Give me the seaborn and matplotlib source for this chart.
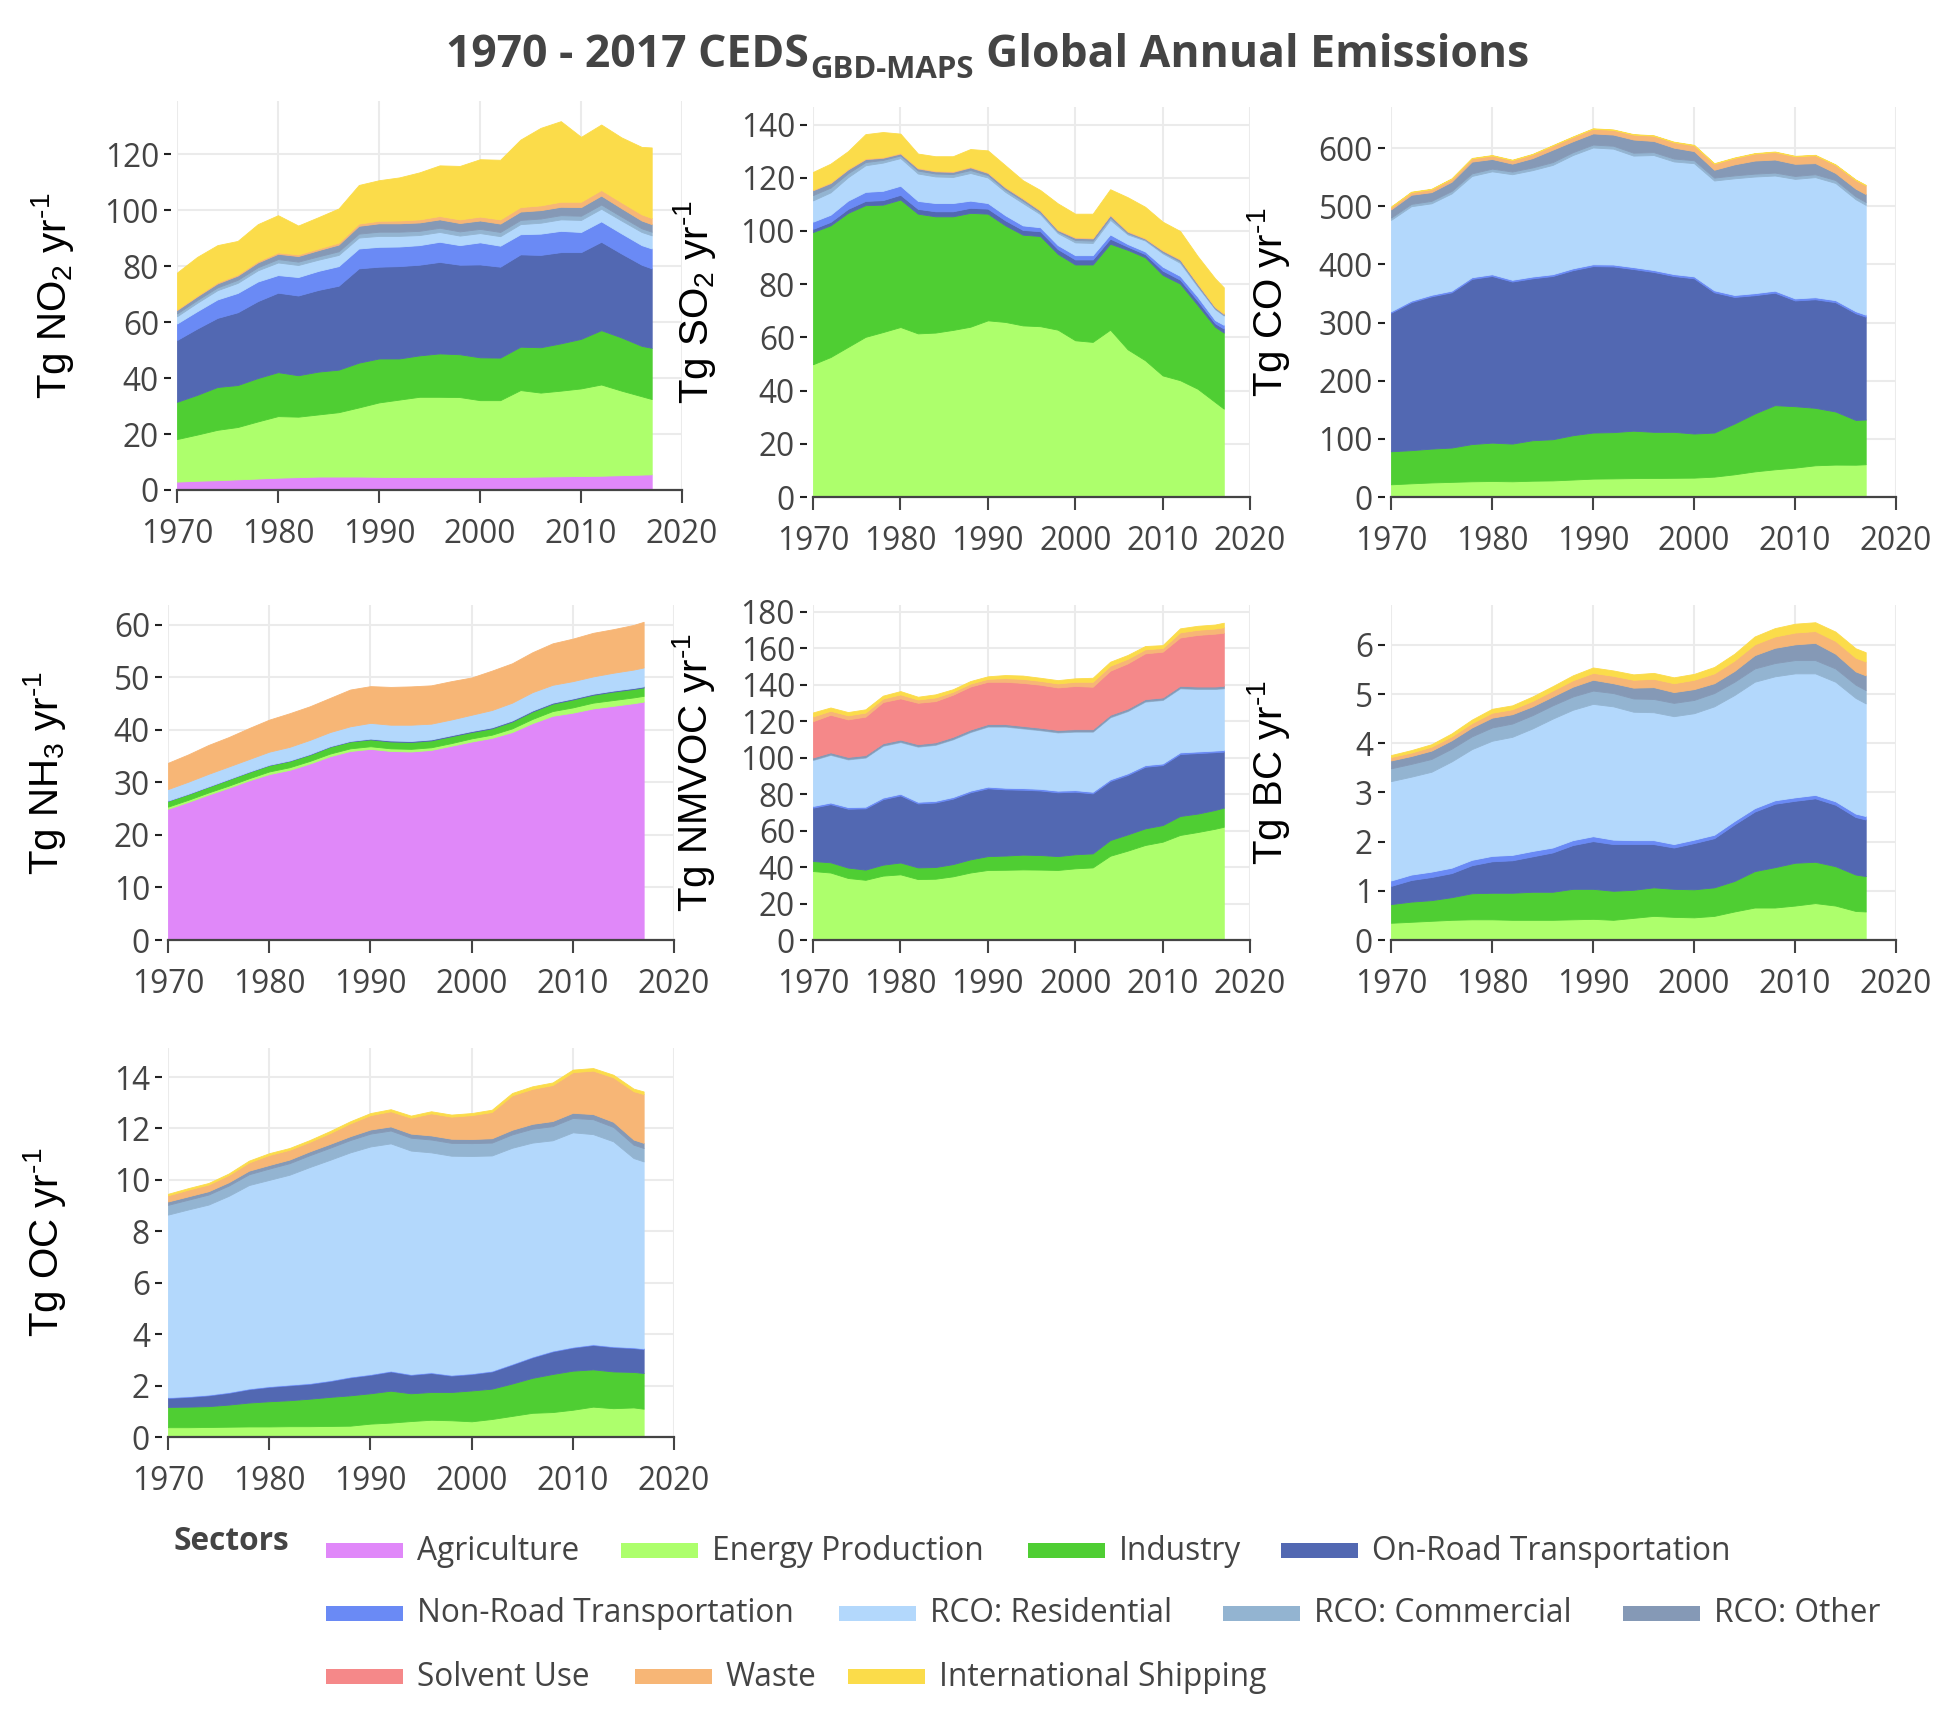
import matplotlib
matplotlib.use("Agg")
import matplotlib.pyplot as plt
import seaborn as sns
from matplotlib.patches import Rectangle

sns.set_theme(style="white")
plt.rcParams['font.family'] = ['Open Sans', 'DejaVu Sans']
plt.rcParams['mathtext.fontset'] = 'custom'
plt.rcParams['mathtext.rm'] = 'Liberation Sans'
plt.rcParams['mathtext.it'] = 'Liberation Sans:italic'
plt.rcParams['mathtext.bf'] = 'Liberation Sans:bold'

# ---------------- data ----------------
years = [1970, 1972, 1974, 1976, 1978, 1980, 1982, 1984, 1986, 1988, 1990, 1992,
         1994, 1996, 1998, 2000, 2002, 2004, 2006, 2008, 2010, 2012, 2014, 2016, 2017]

sectors = ["Agriculture", "Energy Production", "Industry", "On-Road Transportation",
           "Non-Road Transportation", "RCO: Residential", "RCO: Commercial", "RCO: Other",
           "Solvent Use", "Waste", "International Shipping"]

sector_colors = ["#e088f9", "#adff6c", "#4fce33", "#5268b2", "#6a8af5", "#b3d8fc",
                 "#93b4d1", "#8599b6", "#f58889", "#f7b676", "#fbdc4a"]

no2 = {
    "Agriculture": [3.0, 3.3, 3.5, 3.8, 4.1, 4.4, 4.6, 4.8, 4.8, 4.8, 4.7, 4.6, 4.6, 4.6, 4.6, 4.6, 4.6, 4.7, 4.8, 4.9, 5.0, 5.1, 5.3, 5.5, 5.6],
    "Energy Production": [15.2, 16.5, 18.0, 18.7, 20.4, 22.0, 21.6, 22.2, 23.0, 24.7, 26.6, 27.7, 28.7, 28.7, 28.6, 27.5, 27.5, 31.0, 30.0, 30.6, 31.3, 32.6, 30.2, 28.0, 26.9],
    "Industry": [13.3, 14.2, 15.3, 15.0, 15.5, 15.7, 14.8, 15.3, 15.2, 16.0, 15.7, 14.7, 14.8, 15.5, 15.3, 15.3, 15.2, 15.5, 16.2, 16.9, 17.7, 19.4, 19.0, 18.0, 18.3],
    "On-Road Transportation": [22.1, 23.7, 24.7, 26.0, 27.5, 28.4, 28.5, 29.2, 30.0, 33.7, 32.8, 33.0, 32.4, 32.7, 32.0, 33.2, 32.5, 33.0, 33.0, 32.6, 31.0, 31.6, 30.0, 29.0, 28.4],
    "Non-Road Transportation": [5.9, 6.2, 6.6, 6.9, 7.0, 6.3, 6.6, 6.8, 7.0, 7.1, 7.1, 7.0, 7.0, 7.2, 7.0, 7.9, 7.5, 7.2, 7.6, 7.6, 7.2, 7.3, 7.2, 7.0, 7.1],
    "RCO: Residential": [2.6, 3.0, 3.3, 3.6, 4.0, 4.5, 4.3, 4.0, 4.0, 3.9, 3.9, 3.8, 3.6, 3.5, 3.4, 3.3, 3.4, 3.6, 3.9, 4.1, 4.3, 4.5, 4.6, 4.7, 4.7],
    "RCO: Commercial": [1.0, 1.0, 1.0, 1.1, 1.1, 1.2, 1.2, 1.2, 1.3, 1.4, 1.5, 1.5, 1.5, 1.5, 1.5, 1.5, 1.5, 1.5, 1.5, 1.5, 1.5, 1.5, 1.4, 1.3, 1.3],
    "RCO: Other": [1.2, 1.3, 1.4, 1.5, 1.7, 1.9, 2.0, 2.2, 2.4, 2.8, 3.0, 3.0, 3.0, 3.0, 3.0, 3.0, 3.0, 3.0, 3.0, 3.0, 3.1, 3.2, 3.0, 2.8, 2.7],
    "Waste": [0.3, 0.3, 0.4, 0.4, 0.5, 0.5, 0.6, 0.6, 0.7, 0.8, 0.9, 1.0, 1.1, 1.2, 1.3, 1.4, 1.5, 1.6, 1.7, 1.8, 1.9, 2.0, 2.1, 2.2, 2.2],
    "International Shipping": [13.1, 13.8, 13.3, 12.0, 13.2, 13.3, 10.3, 11.2, 12.2, 13.8, 14.5, 15.4, 16.8, 18.1, 19.1, 20.5, 21.3, 24.1, 27.7, 28.8, 23.2, 23.4, 23.2, 24.1, 25.2],
}

so2 = {
    "Energy Production": [49.9, 52.6, 56.4, 60.2, 62.0, 63.9, 61.5, 61.8, 62.8, 64.0, 66.4, 65.8, 64.5, 64.2, 62.9, 58.9, 58.3, 62.9, 55.5, 51.4, 45.7, 43.9, 40.7, 35.7, 33.2],
    "Industry": [49.7, 49.5, 50.4, 49.5, 47.9, 47.9, 45.0, 43.7, 42.7, 42.8, 40.1, 36.3, 34.1, 33.9, 28.5, 28.5, 29.1, 32.3, 37.4, 38.7, 37.8, 36.3, 31.5, 28.3, 28.6],
    "On-Road Transportation": [1.2, 1.3, 1.5, 1.6, 1.7, 1.8, 1.8, 1.9, 1.9, 1.9, 1.9, 1.9, 1.8, 1.8, 1.8, 1.9, 1.9, 1.9, 1.2, 1.2, 1.6, 1.5, 1.6, 1.3, 1.5],
    "Non-Road Transportation": [2.7, 2.7, 3.1, 3.4, 3.5, 3.4, 3.0, 3.1, 3.1, 2.7, 2.1, 1.9, 1.7, 1.5, 1.5, 1.6, 1.6, 1.6, 1.0, 1.0, 1.5, 1.4, 1.5, 1.2, 1.4],
    "RCO: Residential": [8.0, 8.4, 8.8, 10.0, 10.6, 10.4, 10.3, 10.0, 9.8, 10.4, 9.6, 8.8, 8.4, 4.9, 4.5, 4.8, 4.6, 5.5, 3.6, 4.1, 5.0, 4.9, 3.8, 4.1, 3.5],
    "RCO: Commercial": [2.0, 1.8, 1.5, 1.2, 1.0, 1.0, 1.1, 1.1, 1.1, 1.1, 0.9, 0.9, 0.9, 0.7, 0.6, 0.9, 0.9, 0.9, 0.5, 0.4, 0.5, 0.6, 0.5, 0.35, 0.3],
    "RCO: Other": [1.8, 1.7, 1.4, 1.1, 0.8, 0.7, 0.8, 0.8, 0.8, 1.0, 0.8, 0.7, 0.7, 0.6, 0.5, 0.8, 0.8, 0.8, 0.5, 0.3, 0.5, 0.6, 0.5, 0.35, 0.3],
    "Waste": [0.3, 0.3, 0.3, 0.3, 0.3, 0.3, 0.3, 0.3, 0.3, 0.3, 0.3, 0.3, 0.3, 0.3, 0.3, 0.3, 0.3, 0.3, 0.3, 0.3, 0.3, 0.3, 0.3, 0.3, 0.3],
    "International Shipping": [6.6, 7.0, 6.6, 9.1, 9.4, 7.2, 5.3, 5.4, 5.6, 6.6, 8.2, 8.1, 6.7, 7.5, 9.8, 8.8, 9.0, 9.5, 12.7, 11.7, 10.6, 10.5, 10.2, 10.6, 9.7],
}

co = {
    "Energy Production": [21.8, 23.5, 25.0, 26.0, 27.0, 27.5, 27.0, 28.0, 28.5, 30.0, 31.6, 32.0, 32.5, 32.7, 33.0, 33.3, 35.0, 39.0, 44.0, 47.6, 50.5, 54.5, 55.7, 55.5, 56.3],
    "Industry": [56.8, 57.0, 58.2, 59.0, 64.0, 66.0, 64.8, 69.6, 70.8, 76.2, 79.2, 79.5, 81.5, 79.3, 79.0, 75.8, 75.8, 87.3, 99.5, 110.3, 105.6, 98.8, 91.3, 77.0, 76.9],
    "On-Road Transportation": [238.3, 254.5, 261.8, 267.0, 284.0, 286.5, 278.7, 278.4, 280.7, 283.8, 286.2, 285.0, 278.0, 275.0, 268.0, 266.9, 241.2, 217.7, 203.5, 193.4, 181.9, 186.7, 188.0, 183.5, 176.8],
    "Non-Road Transportation": [2.5, 2.6, 2.7, 2.8, 2.9, 3.0, 3.0, 3.1, 3.1, 3.2, 3.2, 3.3, 3.3, 3.3, 3.3, 3.4, 3.4, 3.4, 3.5, 3.5, 3.5, 3.5, 3.5, 3.5, 3.5],
    "RCO: Residential": [157.1, 162.4, 157.3, 167.2, 174.1, 177.0, 181.5, 182.9, 187.9, 194.8, 200.8, 199.2, 191.7, 197.7, 193.7, 194.6, 188.8, 200.6, 200.5, 198.0, 205.5, 206.5, 201.5, 192.5, 188.8],
    "RCO: Commercial": [4.0, 4.0, 4.2, 4.3, 4.5, 4.6, 4.6, 4.7, 4.8, 4.9, 5.0, 5.0, 5.0, 5.0, 5.0, 5.0, 5.0, 5.0, 5.0, 5.0, 5.0, 5.0, 5.0, 5.0, 5.0],
    "RCO: Other": [14.1, 15.7, 15.0, 15.9, 20.2, 16.6, 13.6, 16.0, 21.4, 18.8, 19.2, 19.2, 22.7, 19.2, 18.7, 15.8, 13.5, 19.0, 22.5, 22.5, 20.9, 19.1, 12.2, 13.2, 13.6],
    "Waste": [4.0, 4.5, 5.0, 5.0, 5.5, 6.0, 6.0, 6.5, 7.0, 7.5, 8.0, 8.0, 8.5, 9.0, 9.5, 10.0, 10.5, 11.0, 12.0, 13.0, 13.0, 13.5, 14.0, 15.0, 15.0],
    "International Shipping": [0.8, 0.8, 0.8, 0.8, 0.8, 0.8, 0.8, 0.8, 0.8, 0.8, 0.8, 0.8, 0.8, 0.8, 0.8, 0.8, 0.8, 0.8, 0.8, 0.8, 0.8, 0.8, 0.8, 0.8, 0.8],
}

nh3 = {
    "Agriculture": [25.0, 26.3, 27.7, 29.0, 30.4, 31.6, 32.4, 33.6, 35.0, 36.0, 36.4, 36.0, 35.9, 36.2, 37.0, 37.8, 38.5, 39.6, 41.3, 42.7, 43.3, 44.1, 44.6, 45.1, 45.4],
    "Energy Production": [0.4, 0.4, 0.4, 0.4, 0.4, 0.5, 0.5, 0.5, 0.5, 0.5, 0.5, 0.5, 0.5, 0.5, 0.5, 0.6, 0.6, 0.7, 0.8, 0.9, 1.0, 1.1, 1.1, 1.1, 1.1],
    "Industry": [1.1, 1.1, 1.1, 1.2, 1.2, 1.2, 1.2, 1.2, 1.3, 1.3, 1.3, 1.3, 1.3, 1.3, 1.3, 1.2, 1.2, 1.3, 1.4, 1.4, 1.5, 1.5, 1.6, 1.6, 1.6],
    "On-Road Transportation": [0.05, 0.05, 0.05, 0.05, 0.06, 0.07, 0.08, 0.1, 0.1, 0.1, 0.15, 0.2, 0.2, 0.2, 0.2, 0.2, 0.2, 0.2, 0.2, 0.2, 0.2, 0.2, 0.2, 0.2, 0.2],
    "RCO: Residential": [2.2, 2.3, 2.4, 2.4, 2.4, 2.5, 2.6, 2.7, 2.7, 2.8, 3.0, 3.0, 3.1, 3.0, 3.0, 3.1, 3.3, 3.4, 3.5, 3.4, 3.3, 3.3, 3.4, 3.5, 3.6],
    "Waste": [5.0, 5.2, 5.5, 5.6, 5.9, 6.1, 6.4, 6.4, 6.5, 7.0, 7.0, 7.2, 7.3, 7.3, 7.3, 7.1, 7.5, 7.5, 7.6, 7.9, 8.1, 8.3, 8.3, 8.5, 8.7],
}

nmvoc = {
    "Energy Production": [37.8, 37.0, 34.0, 33.0, 35.3, 36.0, 33.4, 33.6, 34.9, 37.0, 38.4, 38.5, 38.7, 38.6, 38.4, 39.3, 39.8, 46.2, 49.0, 52.1, 53.9, 57.6, 59.2, 61.0, 62.1],
    "Industry": [5.5, 5.6, 5.7, 5.6, 6.0, 6.5, 6.4, 6.4, 6.7, 7.2, 7.6, 7.8, 8.1, 8.0, 7.6, 7.7, 7.7, 8.6, 8.9, 9.1, 9.1, 10.4, 10.1, 10.3, 10.5],
    "On-Road Transportation": [29.3, 31.9, 32.3, 33.6, 35.9, 36.8, 35.1, 35.4, 35.9, 36.8, 37.2, 36.3, 35.6, 35.4, 35.0, 34.3, 32.9, 32.4, 32.6, 33.8, 32.9, 34.0, 33.2, 31.7, 30.7],
    "Non-Road Transportation": [0.9, 0.9, 0.9, 0.9, 0.9, 0.9, 0.9, 0.9, 0.9, 0.9, 0.9, 0.9, 0.9, 0.9, 0.9, 0.9, 0.9, 0.9, 0.9, 0.9, 0.9, 0.9, 0.9, 0.9, 0.9],
    "RCO: Residential": [25.2, 26.1, 26.1, 26.9, 28.4, 28.3, 30.2, 30.7, 31.6, 32.1, 32.9, 33.5, 32.7, 32.1, 31.9, 32.0, 32.9, 34.0, 34.1, 34.8, 34.8, 35.1, 34.2, 33.7, 33.8],
    "RCO: Commercial": [0.4, 0.4, 0.4, 0.4, 0.4, 0.4, 0.4, 0.4, 0.4, 0.4, 0.4, 0.4, 0.4, 0.4, 0.4, 0.4, 0.4, 0.4, 0.4, 0.4, 0.4, 0.4, 0.4, 0.4, 0.4],
    "RCO: Other": [1.0, 1.0, 1.0, 1.0, 1.0, 1.0, 1.0, 1.0, 1.0, 1.0, 1.0, 1.0, 1.0, 1.0, 1.0, 1.0, 1.0, 1.0, 1.0, 1.0, 1.0, 1.0, 1.0, 1.0, 1.0],
    "Solvent Use": [19.9, 20.6, 20.6, 21.1, 22.6, 22.6, 22.7, 22.6, 23.1, 23.6, 23.2, 23.2, 23.6, 23.6, 23.3, 23.7, 23.3, 24.2, 24.8, 25.1, 25.1, 26.5, 28.3, 29.0, 29.1],
    "Waste": [2.6, 2.2, 2.2, 2.2, 1.9, 2.2, 1.8, 2.0, 1.6, 1.6, 1.6, 2.0, 2.2, 2.1, 2.2, 2.3, 2.7, 2.7, 2.5, 2.2, 2.0, 2.8, 2.8, 2.8, 3.0],
    "International Shipping": [2.2, 1.8, 1.8, 1.8, 1.6, 1.8, 1.5, 1.7, 1.4, 1.4, 1.4, 1.7, 1.8, 1.7, 1.8, 1.9, 2.2, 2.2, 2.1, 1.8, 1.6, 2.2, 2.2, 2.2, 2.5],
}

bc = {
    "Energy Production": [0.35, 0.37, 0.39, 0.41, 0.42, 0.42, 0.41, 0.41, 0.41, 0.42, 0.43, 0.41, 0.45, 0.49, 0.47, 0.46, 0.49, 0.58, 0.66, 0.66, 0.70, 0.75, 0.70, 0.59, 0.58],
    "Industry": [0.38, 0.41, 0.42, 0.46, 0.53, 0.54, 0.55, 0.57, 0.57, 0.62, 0.61, 0.59, 0.57, 0.58, 0.57, 0.57, 0.58, 0.62, 0.74, 0.82, 0.87, 0.84, 0.80, 0.74, 0.72],
    "On-Road Transportation": [0.37, 0.44, 0.47, 0.49, 0.57, 0.64, 0.66, 0.72, 0.80, 0.89, 0.97, 0.95, 0.93, 0.88, 0.84, 0.94, 1.00, 1.15, 1.21, 1.29, 1.26, 1.29, 1.25, 1.17, 1.15],
    "Non-Road Transportation": [0.11, 0.11, 0.11, 0.11, 0.11, 0.11, 0.11, 0.11, 0.10, 0.10, 0.10, 0.09, 0.08, 0.08, 0.07, 0.07, 0.07, 0.07, 0.07, 0.07, 0.07, 0.07, 0.07, 0.07, 0.07],
    "RCO: Residential": [2.02, 1.99, 2.03, 2.16, 2.25, 2.34, 2.40, 2.49, 2.62, 2.65, 2.69, 2.71, 2.61, 2.60, 2.60, 2.57, 2.61, 2.56, 2.57, 2.52, 2.52, 2.47, 2.43, 2.35, 2.29],
    "RCO: Commercial": [0.26, 0.26, 0.26, 0.26, 0.26, 0.27, 0.27, 0.27, 0.27, 0.27, 0.27, 0.27, 0.27, 0.27, 0.27, 0.27, 0.27, 0.27, 0.27, 0.27, 0.27, 0.27, 0.27, 0.27, 0.27],
    "RCO: Other": [0.16, 0.16, 0.17, 0.17, 0.18, 0.20, 0.19, 0.18, 0.18, 0.20, 0.22, 0.20, 0.22, 0.24, 0.22, 0.22, 0.20, 0.22, 0.27, 0.31, 0.32, 0.35, 0.30, 0.27, 0.30],
    "Waste": [0.07, 0.07, 0.08, 0.08, 0.09, 0.10, 0.10, 0.11, 0.12, 0.13, 0.14, 0.15, 0.16, 0.17, 0.18, 0.19, 0.20, 0.21, 0.22, 0.23, 0.24, 0.24, 0.26, 0.28, 0.28],
    "International Shipping": [0.04, 0.05, 0.05, 0.06, 0.07, 0.08, 0.08, 0.09, 0.09, 0.10, 0.11, 0.11, 0.11, 0.12, 0.12, 0.12, 0.13, 0.14, 0.16, 0.17, 0.18, 0.18, 0.19, 0.19, 0.19],
}

oc = {
    "Energy Production": [0.38, 0.38, 0.39, 0.40, 0.41, 0.41, 0.42, 0.42, 0.43, 0.44, 0.52, 0.56, 0.62, 0.67, 0.65, 0.61, 0.70, 0.82, 0.94, 0.97, 1.06, 1.18, 1.12, 1.15, 1.10],
    "Industry": [0.79, 0.80, 0.81, 0.86, 0.93, 0.98, 1.01, 1.07, 1.13, 1.18, 1.18, 1.24, 1.08, 1.08, 1.10, 1.20, 1.18, 1.26, 1.36, 1.48, 1.52, 1.45, 1.43, 1.38, 1.39],
    "On-Road Transportation": [0.35, 0.38, 0.42, 0.46, 0.52, 0.56, 0.58, 0.58, 0.62, 0.70, 0.72, 0.75, 0.72, 0.74, 0.64, 0.64, 0.67, 0.74, 0.80, 0.88, 0.90, 0.95, 0.95, 0.93, 0.93],
    "Non-Road Transportation": [0.03, 0.03, 0.03, 0.03, 0.03, 0.03, 0.03, 0.03, 0.03, 0.03, 0.03, 0.03, 0.03, 0.03, 0.03, 0.03, 0.03, 0.03, 0.03, 0.03, 0.03, 0.03, 0.03, 0.03, 0.03],
    "RCO: Residential": [7.10, 7.26, 7.39, 7.63, 7.91, 8.02, 8.16, 8.40, 8.57, 8.72, 8.85, 8.84, 8.69, 8.55, 8.52, 8.45, 8.37, 8.40, 8.32, 8.18, 8.34, 8.17, 7.97, 7.36, 7.27],
    "RCO: Commercial": [0.38, 0.38, 0.39, 0.40, 0.42, 0.44, 0.45, 0.46, 0.47, 0.48, 0.50, 0.50, 0.50, 0.50, 0.50, 0.50, 0.50, 0.52, 0.54, 0.55, 0.56, 0.58, 0.56, 0.52, 0.52],
    "RCO: Other": [0.13, 0.13, 0.13, 0.13, 0.14, 0.14, 0.14, 0.15, 0.15, 0.15, 0.16, 0.16, 0.16, 0.16, 0.16, 0.16, 0.17, 0.18, 0.19, 0.20, 0.20, 0.20, 0.20, 0.20, 0.20],
    "Waste": [0.24, 0.26, 0.26, 0.28, 0.32, 0.39, 0.38, 0.37, 0.42, 0.50, 0.56, 0.59, 0.62, 0.86, 0.86, 0.93, 1.02, 1.34, 1.36, 1.40, 1.58, 1.69, 1.73, 1.88, 1.90],
    "International Shipping": [0.06, 0.06, 0.06, 0.06, 0.07, 0.07, 0.07, 0.07, 0.08, 0.08, 0.08, 0.08, 0.08, 0.08, 0.08, 0.08, 0.09, 0.09, 0.10, 0.10, 0.10, 0.10, 0.10, 0.10, 0.10],
}

ylabels = [r"Tg NO$_2$ yr$^{\text{-}1}$", r"Tg SO$_2$ yr$^{\text{-}1}$", r"Tg CO yr$^{\text{-}1}$",
           r"Tg NH$_3$ yr$^{\text{-}1}$", r"Tg NMVOC yr$^{\text{-}1}$", r"Tg BC yr$^{\text{-}1}$",
           r"Tg OC yr$^{\text{-}1}$"]
yticks = [list(range(0, 121, 20)), list(range(0, 141, 20)), list(range(0, 601, 100)),
          list(range(0, 61, 10)), list(range(0, 181, 20)), list(range(0, 7, 1)), list(range(0, 15, 2))]
xticks = [1970, 1980, 1990, 2000, 2010, 2020]

# ---------------- layout (pixels) ----------------
W, H = 1960, 1723
fig = plt.figure(figsize=(W / 100, H / 100), dpi=100, facecolor="white")

# (x0, x1, ytop, ybottom, label_x, ymax)
boxes = [
    (177, 682, 101, 490, 53, 139.0),
    (813, 1250, 107, 497, 694, 146.6),
    (1391, 1896, 107, 497, 1268, 670.6),
    (168, 674, 605, 940, 45, 63.8),
    (813, 1250, 605, 940, 693, 183.7),
    (1391, 1896, 605, 940, 1268, 6.81),
    (168, 674, 1048, 1437, 45, 15.13),
]
datasets = [no2, so2, co, nh3, nmvoc, bc, oc]
color_of = dict(zip(sectors, sector_colors))

TICK_FS = 22.8
GRAY = "#444444"

for data, lab, ticks, (x0, x1, yt, yb, lx, ymax) in zip(datasets, ylabels, yticks, boxes):
    ax = fig.add_axes([x0 / W, 1 - yb / H, (x1 - x0) / W, (yb - yt) / H])
    present = [s for s in sectors if s in data]
    cols = [color_of[s] for s in present]
    polys = ax.stackplot(years, [data[s] for s in present], colors=cols)
    for p, c in zip(polys, cols):
        p.set_edgecolor(c)
        p.set_linewidth(0.6)
    ax.set_xlim(1970, 2020)
    ax.set_ylim(0, ymax)
    ax.set_xticks(xticks)
    ax.set_yticks(ticks)
    ax.grid(True, color="#ebebeb", lw=1.5)
    ax.set_axisbelow(True)
    ax.set_facecolor("white")
    for s in ["top", "right", "left"]:
        ax.spines[s].set_visible(False)
    ax.spines["left"].set_position(("outward", 4))
    ax.spines["bottom"].set_color(GRAY)
    ax.spines["bottom"].set_linewidth(1.6)
    ax.spines["bottom"].set_zorder(5)
    ax.tick_params(axis="x", direction="out", length=9, width=1.5, color=GRAY,
                   labelsize=TICK_FS, labelcolor=GRAY, pad=11, bottom=True)
    ax.tick_params(axis="y", direction="out", length=5, width=1.5, color="#222222",
                   labelsize=TICK_FS, labelcolor=GRAY, pad=4, left=True)
    fig.text(lx / W, 1 - (yt + yb) / 2 / H, lab, rotation=90, ha="center", va="center",
             fontsize=29, family="Liberation Sans", color="black")

# ---------------- title ----------------
renderer = fig.canvas.get_renderer()
target_w = 1079.0


def build(fs):
    t1 = fig.text(0, 0, "1970 - 2017 CEDS", fontsize=fs, fontweight="bold", color=GRAY)
    t2 = fig.text(0, 0, "GBD-MAPS", fontsize=fs * 0.7, fontweight="bold", color=GRAY)
    t3 = fig.text(0, 0, "Global Annual Emissions", fontsize=fs, fontweight="bold", color=GRAY)
    ws = [t.get_window_extent(renderer).width for t in (t1, t2, t3)]
    gap = 0.27 * fs * 100 / 72
    return (t1, t2, t3), ws, gap


fs = 28.0
texts, widths, gap = build(fs)
total = sum(widths) + gap
for t in texts:
    t.remove()
fs = fs * target_w / total
texts, widths, gap = build(fs)
total = sum(widths) + gap
xs = 987 - total / 2
base = 67
fs_px = fs * 100 / 72
t1, t2, t3 = texts
for t in texts:
    t.set_va("baseline")
t1.set_position((xs / W, 1 - base / H))
t2.set_position(((xs + widths[0] + 1) / W, 1 - (base + 0.24 * fs_px) / H))
t3.set_position(((xs + widths[0] + 1 + widths[1] + gap) / W, 1 - base / H))

# ---------------- legend ----------------
fig.text(173 / W, 1 - 1541 / H, "Sectors", fontsize=TICK_FS, fontweight="bold",
         color=GRAY, ha="left", va="center")
legend_rows = [1550, 1613, 1676]
legend_x = [326, 621, 1028, 1281, 326, 839, 1223, 1623, 326, 635, 848]
legend_r = [0, 0, 0, 0, 1, 1, 1, 1, 2, 2, 2]
sw, sh = 77, 15
for name, col, x, r in zip(sectors, sector_colors, legend_x, legend_r):
    yc = legend_rows[r]
    fig.add_artist(Rectangle((x / W, 1 - (yc + sh / 2) / H), sw / W, sh / H,
                             transform=fig.transFigure, facecolor=col, edgecolor="none"))
    fig.text((x + sw + 14) / W, 1 - (yc + 1) / H, name, fontsize=TICK_FS, color=GRAY,
             ha="left", va="center")

fig.savefig("out.png", dpi=100, facecolor="white")
